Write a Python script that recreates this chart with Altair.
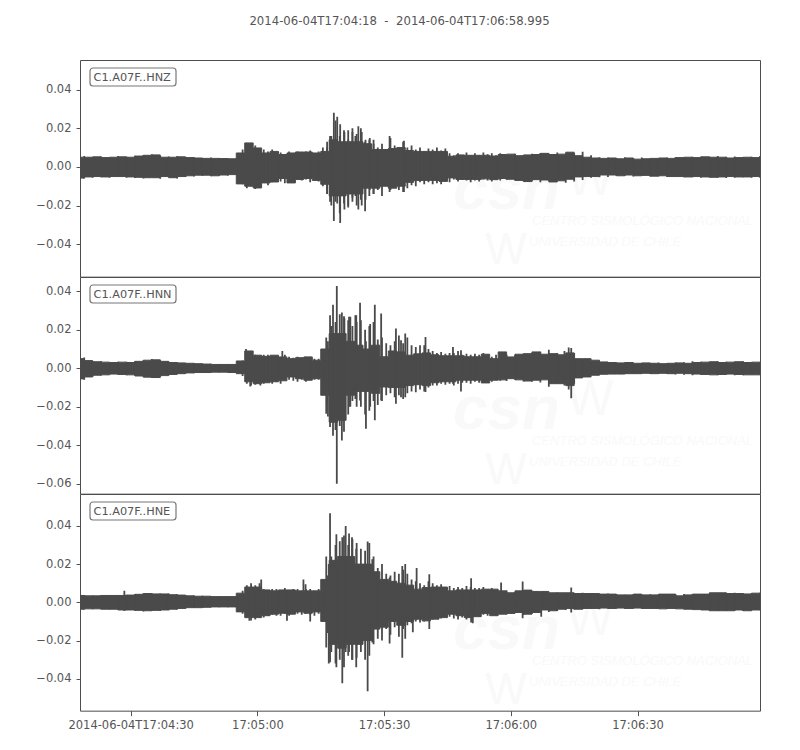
import altair as alt
import pandas as pd

TITLE = "2014-06-04T17:04:18\u00a0\u00a0-\u00a0\u00a02014-06-04T17:06:58.995"
INK = "#4a4a4a"
TXT = "#555555"
FONT = "DejaVu Sans"
T_END = 160.995
KNOTS = list(range(0, 164, 2))
TICK_T = [12, 42, 72, 102, 132]
TICK_L = ["2014-06-04T17:04:30", "17:05:00", "17:05:30", "17:06:00", "17:06:30"]

# values are in units of 0.001, every 2 s
HNZ_UP = [5,5,5.2,4.8,5,5.2,5,5.6,6,6.2,5,5,5.2,4.8,4.6,4.4,4.4,4.3,4.2,
          7.2,12.4,9.8,7.2,8,6.4,7.2,7.7,7.7,7.2,8,14,13,13,13,
          12,9,9,9.5,10,8.5,8,8,8,8,5.5,6.2,6,6,
          6,5.6,6.4,6.6,5.8,6.2,6.4,7,6.4,6.6,7.6,5.8,5,4.6,4.4,4.6,4.2,4.6,4,4.2,4.4,4.6,4.4,4.8,5,4.8,5.2,5,5,4.6,4.8,5,4.8,5]
HNZ_LO = [-5.8,-5.2,-5,-5.2,-5,-5,-5.2,-5.4,-5.6,-5.6,-5,-5.6,-5,-4.6,-4.3,-4.3,-4.6,-4.2,-4,
          -8.8,-10,-10.9,-8.3,-7.8,-6,-8.3,-6.5,-6,-7,-9,-15,-15,-14,-14,
          -11,-11,-10,-11,-10,-8,-7,-7,-7,-7.5,-5.7,-6.5,-6.5,-6.5,
          -6.2,-6.6,-6,-6.4,-7,-7.6,-6.6,-6.8,-7.8,-7.2,-6.4,-5.2,-5,-5,-4.2,-4.2,-4.6,-4.2,-4.6,-4.4,-4.8,-4.6,-5,-5,-5.2,-5,-5.2,-5.4,-5.2,-5,-5.2,-5.2,-5,-5]
HNZ_SPIKE_T = [60.1,60.9,61.6,62.6,63.5,64.5,65.2,65.9,66.7,67.6,68.6,69.5,73.3,76.7,58.5,59.2]
HNZ_SPIKE_U = [28,26,22,18,19,20,16,21,18,14,15,12,16,13.5,13,16]
HNZ_SPIKE_L = [-28,-19,-29,-22,-20,-18,-15,-22,-20,-17,-12,-14,-13,-13,-14,-18]
# one reading per second from 38.5 s to 99.5 s
HNZ_MID_U = [9,11,12,11,8.5,9,8,9,7,7.5,6,8,7,8,7,8,8.5,7,8,10,10,16,24,16,19,14,18,17,20,13,14,14,10,12,9,15,11,10,13,10,11,9,10,8,9.5,9,10,8.5,9.5,7,6,7,6,7.5,6,7,6,7.5,6.5,7,6,7]
HNZ_MID_L = [-9,-11,-10,-11.5,-9,-8,-9.5,-8,-7,-7.5,-8.5,-7,-8,-6.5,-7,-6.5,-8,-7,-7.5,-10,-14,-20,-18,-24,-19,-21,-16,-20,-17,-23,-15,-14,-12,-15,-10,-12,-10,-12,-13,-11,-9.5,-10,-8,-9,-8,-9,-8.5,-9,-7,-8,-6.5,-7.5,-6.5,-7,-8,-7,-7.5,-6.5,-7,-7.5,-6.5,-7]
# odd seconds before the onset, then odd seconds after 100 s
HNZ_QUIET_U = [5.6,4.8,5.4,5,5.6,5.2,5.8,6,6.6,5.6,5.4,5.6,5,5,4.6,4.8,4.6,4.5,4.4, 6,6.8,6.2,6.8,7.2,6.8,7.4,6.6,7,7.8,6,5,4.8,4.6,5,4.6,4.8,4.4,4.6,4.8,5,4.8,5.2,5.2,5.2,5.6,5.2,5.4,5,5.2,5.6]
HNZ_QUIET_L = [-6,-5.6,-5.4,-5.6,-5.2,-5.6,-5.8,-6,-5.2,-6.2,-5.4,-6,-5.2,-5,-4.6,-4.8,-4.4,-4.6,-4.2, -6.6,-7,-7.4,-7.4,-8,-7,-7.2,-8.2,-7.6,-6.8,-5.6,-5.4,-5.2,-4.6,-4.6,-5,-4.6,-5,-4.8,-5.2,-5,-5.4,-5.4,-5.6,-5.4,-5.6,-5.8,-5.6,-5.4,-5.6,-5.6]

HNN_UP = [5,4,3.4,3.2,3,3.2,3,3.6,4.2,4.4,3.6,3,2.8,2.6,2.4,2.2,2,2,2,
          3.8,9,6.8,6.2,6.8,5.9,5,5.5,5.9,4.2,10,18,18,14,12,
          10,12,6,9,8.5,6.8,7.5,8,7,6.5,6.5,6.5,6,6,
          7.3,5,8.5,5.9,7.3,7.6,8.5,7.3,7.6,7,8,5,5,4.2,3.3,
          3,2.8,3,2.6,2.8,2.6,2.4,2.6,2.8,2.6,3,3.2,3.4,3,3.2,3.4,3,3.2,3]
HNN_LO = [-5.5,-4.5,-3.6,-3.4,-3,-3.2,-3.4,-4,-4.6,-4.8,-3.8,-3.2,-2.8,-2.4,-2.2,-2.2,-2,-2,-2.2,
          -2.8,-7,-8,-7.5,-7,-6.5,-4.5,-5.4,-6.2,-5.4,-14,-28,-27,-14,-12,
          -12,-13,-9.7,-10,-10,-9,-8.5,-9,-7.5,-7,-7,-6.2,-6.2,-6.2,
          -7.6,-6.2,-6,-5.4,-6,-6.6,-6.2,-6,-8,-8,-9,-5,-4.5,-3.6,-3.1,
          -3,-3,-2.8,-2.8,-2.6,-2.8,-2.6,-2.8,-2.6,-2.8,-3,-3.2,-3.4,-3.2,-3,-3.2,-3.4,-3.4,-3.2]
HNN_SPIKE_T = [60.8,59.9,62,59.2,62.6,63.7,65.4,58.3,58.7,39.3,47.9,40.3,42.7,66.3,67.7,69.8,71.3,65.2,64,68.7,74.8,77,76,81.8,88.3,90.2,114.7,115.7,116.3,117]
HNN_SPIKE_U = [42.7,33,29,27.6,26,26.7,27.6,16,14,10,9,6,6,34,14,33,28.5,27.6,26.7,23,20.6,18,14.6,16.3,11,9.4,9,10.8,10.5,8]
HNN_SPIKE_L = [-60,-35,-37.5,-30.5,-24,-20,-15.8,-23.6,-25,-7,-5,-9.4,-9,-16.7,-31.4,-27,-16.7,-16,-20,-20,-18.4,-15,-15,-12.3,-8,-12,-9,-11,-15.5,-8]
HNN_MID_U = [4,9,9,7,6.5,7,7,6,6.5,5.5,7,6,5.5,6,5.5,6,6,5,5,6,12,22,24,28,27,25,22,24,25,20,22,24,15,16,13,12,14,17,13,16,12,11,12,12,10,9,8,8.5,7.5,8,8,9,7,7.5,7,7.5,7,8,7,6,7,7.5]
HNN_MID_L = [-4,-8,-9,-8.5,-7.5,-8,-7,-8,-7,-8,-6,-6,-6.5,-7,-6,-7,-6,-6,-6,-8,-18,-28,-32,-30,-33,-24,-17,-20,-20,-24,-22,-17,-19,-17,-14,-13,-15,-14,-16,-13,-12,-12.5,-11,-12,-10,-9,-9,-8,-8.5,-8,-9,-8,-7.5,-7.5,-8,-7,-7.5,-7,-6.5,-7,-6,-6.5]
HNN_QUIET_U = [5.6,3.8,3.6,3,3.4,3.4,3.6,4,4.8,4.2,3.4,3.2,2.8,2.8,2.4,2.4,2.2,2.2,2.2, 7,7,7.6,8,8.6,9.6,8,5.6,4.8,4,3.4,3.2,3.2,3,3,2.8,2.6,2.8,3,2.8,3,3.2,3.6,3.4,3.2,3.6,3.4,3.4,3.6,3.2,3.2]
HNN_QUIET_L = [-6,-4.2,-3.8,-3.2,-3.2,-3.6,-3.8,-4.4,-5,-4.4,-3.6,-3,-2.6,-2.6,-2.4,-2.2,-2.2,-2.2,-2.2, -6.6,-6,-6.8,-7,-7.4,-9.6,-8,-6,-5,-4,-3.4,-3.2,-3,-2.8,-3,-2.8,-2.8,-3,-2.8,-3,-3.2,-3.4,-3.6,-3.4,-3.4,-3.6,-3.4,-3.6,-3.6,-3.4,-3.4]

HNE_UP = [3.6,3.4,3.4,3.6,3.6,3.6,3.8,4.2,4.6,4.4,4.4,4,3.8,3.4,3.2,3.2,3,3,3,
          4.8,8,8,6.5,6,6.5,6.5,6,6,6,12,22,24,24,20,
          20,16,12,11,10,9,6.9,7.7,8,8,6,6.5,6.5,6.5,
          6.9,6.9,6,5,6,6.4,5.7,5.7,5,5,5,4.6,4.6,4.6,4.3,4.3,3.9,3.9,4.3,3.9,3.9,4.3,4.3,3.4,3.9,4.3,4.3,5,5,4.6,4.6,4.4,4.8,4.8]
HNE_LO = [-3.6,-3.4,-3.4,-3.6,-3.6,-4,-4,-4.2,-4.4,-4.2,-4,-3.6,-3.2,-2.8,-2.8,-2.6,-2.4,-2.4,-2.4,
          -5,-8,-8,-7,-6.2,-5.7,-6.2,-5,-5.7,-5,-10,-22,-24,-22,-22,
          -20,-14,-13,-10,-12,-10,-8.8,-9.7,-8.8,-8,-6.2,-7,-8,-7.5,
          -5.8,-7,-6.2,-5.8,-5.3,-6.2,-5.3,-4,-4.4,-3.6,-3.2,-3.6,-3.2,-3.2,-3,-3.2,-3,-3.2,-3,-3.2,-3.2,-3.4,-3.2,-3.4,-3.6,-3.8,-4,-4.4,-4.4,-4.4,-4,-4.4,-4,-4]
HNE_SPIKE_T = [59.2,60.7,62.1,62.9,63.7,58.3,58.9,42.9,52.9,53.4,49,54.5,40.1,10.5,64.4,68.1,65.4,69.2,73.3,76.3,77,79.7,82.7,92.6,78.8,99.7,104.8,116.3,109.2,93]
HNE_SPIKE_U = [46.6,35.6,34,40,36,24,20,12,12,9.5,5,5,6,6,34,31.8,28,22.5,13,19,20,18,14.7,12.6,8,10.4,10.9,7.7,4,6]
HNE_SPIKE_L = [-31.4,-34,-42.4,-26,-26,-23.6,-32,-6,-5,-5,-9.7,-10,-9.7,-4.5,-30,-46.6,-34,-21,-21.5,-29,-19,-9,-14,-10.5,-15.7,-5,-8.3,-5.3,-7.6,-11]
HNE_MID_U = [6,9,10,9,10,7,6.5,7,7,6,7.5,6.5,7,7,6,7,7,6,7,7.5,14,24,30,32,35,30,33,31,28,27,31,24,18,20,15,14,16,15,17,15,12,11,10,9,11,10,9,9.5,8,8.5,7.5,8,7.5,8.5,8,7.5,7.5,8,7,7.5,6.5,6]
HNE_MID_L = [-6,-8,-9.5,-9,-8,-8,-7,-6.5,-7,-7,-6,-7,-6,-6,-6.5,-6,-6.5,-7,-6,-8,-16,-26,-32,-30,-34,-28,-30,-29,-26,-30,-28,-22,-19,-20,-14,-17,-13,-18,-14,-12,-11,-10,-10.5,-10,-9.5,-9,-8,-8.5,-7.5,-7.5,-8.5,-9,-8,-9,-7,-6.5,-7.5,-6.5,-7,-6,-6.5,-6]
HNE_QUIET_U = [3.8,3.6,3.8,3.6,3.8,4,4.2,4.6,4.8,4.6,4.6,4.2,3.8,3.6,3.4,3.2,3.2,3,3.2, 6.2,5.6,5.8,5.6,5.4,5,5.2,5,4.8,5,4.6,4.4,4.6,4.2,4,4.2,4,4.2,4.2,4,4.2,4.4,4.2,4,4.4,5,5,5,4.8,4.8,5]
HNE_QUIET_L = [-3.8,-3.6,-3.6,-3.8,-4,-4.2,-4.4,-4.8,-4.4,-4.6,-4.2,-3.8,-3.2,-3,-2.8,-2.6,-2.6,-2.6,-2.6, -6.4,-5.6,-6.6,-6,-5.6,-5,-4.6,-4,-3.8,-3.6,-3.4,-3.6,-3.4,-3.2,-3.4,-3.2,-3.4,-3.2,-3.4,-3.4,-3.4,-3.6,-3.6,-3.8,-4.2,-4.6,-4.6,-4.4,-4.6,-4.2,-4.2]
QUIET_T = list(range(1, 38, 2)) + list(range(101, 162, 2))

PANELS = [
    ("C1.A07F..HNZ", HNZ_UP, HNZ_LO, HNZ_SPIKE_T, HNZ_SPIKE_U, HNZ_SPIKE_L, HNZ_MID_U, HNZ_MID_L, HNZ_QUIET_U, HNZ_QUIET_L, [-0.0568, 0.0553], [-0.04,-0.02,0,0.02,0.04], 0),
    ("C1.A07F..HNN", HNN_UP, HNN_LO, HNN_SPIKE_T, HNN_SPIKE_U, HNN_SPIKE_L, HNN_MID_U, HNN_MID_L, HNN_QUIET_U, HNN_QUIET_L, [-0.0651, 0.0474], [-0.06,-0.04,-0.02,0,0.02,0.04], 3),
    ("C1.A07F..HNE", HNE_UP, HNE_LO, HNE_SPIKE_T, HNE_SPIKE_U, HNE_SPIKE_L, HNE_MID_U, HNE_MID_L, HNE_QUIET_U, HNE_QUIET_L, [-0.0567, 0.0567], [-0.04,-0.02,0,0.02,0.04], 6),
]

label_expr = "{" + ",".join(f"'{t}':'{l}'" for t, l in zip(TICK_T, TICK_L)) + "}[datum.value]"
PANEL_H = 216.67
PANEL_W = 680
WM = "#f9f9f9"
WFONT = "Liberation Sans"


def panel(name, up, lo, st, su, sl, mu, ml, qu, ql, dom, yticks, wm_dy, last):
    assert len(up) == len(KNOTS) and len(lo) == len(KNOTS), name
    env = pd.DataFrame({"t": KNOTS, "u": [v / 1000 for v in up], "l": [v / 1000 for v in lo]})
    mid_t = [38.5 + i for i in range(len(mu))]
    all_t = list(st) + mid_t + QUIET_T[:len(qu)]
    all_u = list(su) + list(mu) + list(qu)
    all_l = list(sl) + list(ml) + list(ql)
    n = min(len(all_t), len(all_u), len(all_l))
    sp = pd.DataFrame({"t": all_t[:n], "u": [v / 1000 for v in all_u[:n]], "l": [v / 1000 for v in all_l[:n]]})
    xax = None
    if last:
        xax = alt.Axis(values=TICK_T, labelExpr=label_expr, title=None, grid=False, domain=False,
                       tickSize=5, tickColor=TXT, labelColor=TXT, labelFont=FONT, labelFontSize=11.5,
                       labelPadding=4, labelFlush=False)
    x = alt.X("t:Q", scale=alt.Scale(domain=[0, T_END], nice=False, zero=False), axis=xax)
    y = alt.Y("u:Q", scale=alt.Scale(domain=dom, nice=False, zero=False),
              axis=alt.Axis(values=yticks, format=".2f", title=None, grid=False, domain=False,
                            tickSize=4, tickColor=TXT, labelColor=TXT, labelFont=FONT, labelFontSize=11.5,
                            labelPadding=5, minExtent=71, maxExtent=71))
    area = alt.Chart(env).mark_area(color=INK, clip=True, stroke=INK, strokeWidth=1, interpolate="step").encode(x=x, y=y, y2="l:Q")
    rules = alt.Chart(sp).mark_rule(color=INK, strokeWidth=1.8, clip=True).encode(x=alt.X("t:Q"), y=alt.Y("u:Q"), y2="l:Q")
    base = alt.Chart(pd.DataFrame({"a": [name]}))
    wm = [
        base.mark_text(text="csn", font=WFONT, fontSize=62, fontWeight="bold", fontStyle="italic", color=WM, align="left", baseline="alphabetic", clip=True).encode(x=alt.value(373), y=alt.value(149 + wm_dy)),
        base.mark_text(text="W", font=WFONT, fontSize=44, color=WM, align="center", baseline="alphabetic", clip=True).encode(x=alt.value(426), y=alt.value(204 + wm_dy)),
        base.mark_text(text="W", font=WFONT, fontSize=50, color=WM, align="center", baseline="alphabetic", clip=True).encode(x=alt.value(510), y=alt.value(135 + wm_dy)),
        base.mark_text(text="CENTRO SISMOLÓGICO NACIONAL", font=WFONT, fontSize=13, fontStyle="italic", color=WM, align="left", baseline="middle", clip=True).encode(x=alt.value(452), y=alt.value(161 + wm_dy)),
        base.mark_text(text="UNIVERSIDAD DE CHILE", font=WFONT, fontSize=13, fontStyle="italic", color=WM, align="left", baseline="middle", clip=True).encode(x=alt.value(449), y=alt.value(182 + wm_dy)),
    ]
    box = base.mark_rect(fill="white", stroke="#777777", strokeWidth=1.2, cornerRadius=3).encode(
        x=alt.value(10), x2=alt.value(96), y=alt.value(8), y2=alt.value(26))
    txt = base.mark_text(font=FONT, fontSize=11.3, color=TXT, align="left", baseline="middle").encode(
        text="a:N", x=alt.value(13.5), y=alt.value(17.5))
    return alt.layer(*wm, area, rules, box, txt).properties(width=PANEL_W, height=PANEL_H)


charts = [panel(*p, i == 2) for i, p in enumerate(PANELS)]
chart = alt.vconcat(*charts, spacing=0, bounds="flush").properties(
    padding={"left": 0, "top": 7, "right": 0, "bottom": 0},
    title=alt.TitleParams(TITLE, font=FONT, fontSize=11.7, fontWeight="normal", color=TXT,
                          anchor="middle", offset=32, dx=15),
).configure_view(stroke="#4d4d4d", strokeWidth=1).configure_concat(spacing=0)
chart.save("out.html", embed_options={"renderer": "svg", "actions": False})
